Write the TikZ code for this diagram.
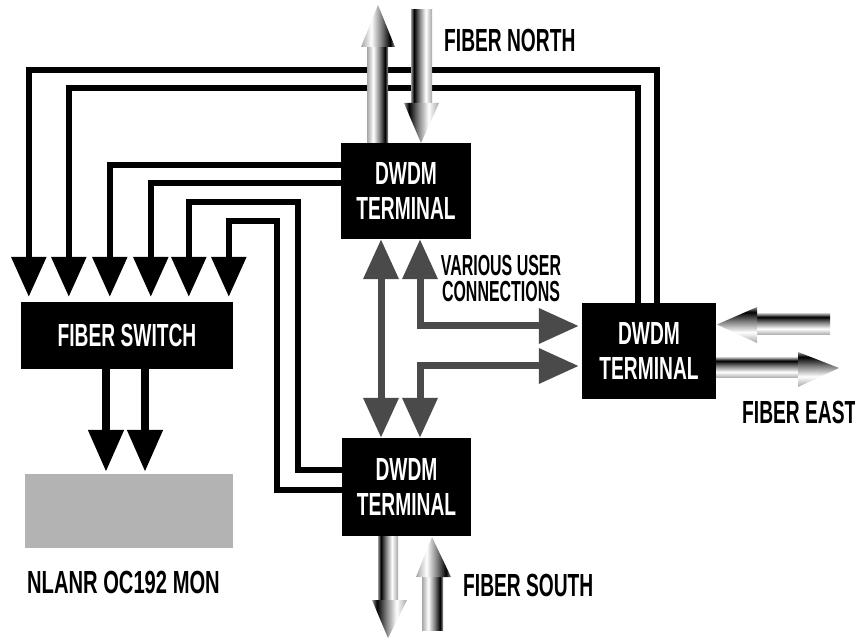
\documentclass[tikz,border=0pt]{standalone}
\usepackage{fontspec}
\setmainfont{Liberation Sans}
\newfontfamily\condf[FakeStretch=0.60]{Liberation Sans}
\newfontfamily\condw[FakeStretch=0.63]{Liberation Sans}
\newfontfamily\condn[FakeStretch=0.55]{Liberation Sans}
\usetikzlibrary{arrows.meta}
\definecolor{ugray}{HTML}{4A4A4A}
\definecolor{mgray}{HTML}{B3B3B3}
\pgfdeclarehorizontalshading{metal}{100bp}{color(0bp)=(gray!70); color(25bp)=(gray!70); color(40bp)=(white); color(55bp)=(gray); color(68bp)=(black); color(75bp)=(gray!80); color(100bp)=(gray!80)}
\tikzset{
 blk/.style={line width=6pt, line join=miter, black},
 blkar/.style={blk, -{Triangle[width=34pt,length=40pt]}},
 gar/.style={line width=7pt, ugray, line join=miter, {Triangle[width=34pt,length=40pt]}-{Triangle[width=34pt,length=40pt]}},
 termbox/.style={fill=black, text=white, inner sep=0pt, align=center, font=\condf\bfseries\fontsize{32}{35}\selectfont},
 lbl/.style={font=\condf\bfseries\fontsize{32}{38}\selectfont, inner sep=0pt},
 metalfill/.style={shading=metal, draw=none}
}
\begin{document}
\begin{tikzpicture}[x=1pt, y=-1pt]
\useasboundingbox (0,0) rectangle (855,639);
% boxes
\node[termbox, minimum width=130pt, minimum height=96pt] (dn) at (406,191) {DWDM\\TERMINAL};
\node[termbox, minimum width=129pt, minimum height=98pt] (ds) at (406.5,487) {DWDM\\TERMINAL};
\node[termbox, minimum width=134pt, minimum height=96pt] (de) at (649,351) {DWDM\\TERMINAL};
\node[termbox, minimum width=212pt, minimum height=67pt] (sw) at (127,335.5) {FIBER SWITCH};
\node[fill=mgray, minimum width=208pt, minimum height=74pt, inner sep=0pt] (mon) at (129,511) {};
% switch inputs
\coordinate (i1) at ([shift={(8pt,5pt)}]sw.north west);
\coordinate (i2) at ([shift={(48pt,5pt)}]sw.north west);
\coordinate (i3) at ([shift={(89pt,5pt)}]sw.north west);
\coordinate (i4) at ([shift={(130pt,5pt)}]sw.north west);
\coordinate (i5) at ([shift={(168pt,5pt)}]sw.north west);
\coordinate (i6) at ([shift={(208pt,5pt)}]sw.north west);
% black fibers
\draw[blkar] (de.north -| 657,0) |- (i1 |- 0,70) -- (i1);
\draw[blkar] (de.north -| 638,0) |- (i2 |- 0,88) -- (i2);
\draw[blkar] (dn.west |- 0,165) -| (i3);
\draw[blkar] (dn.west |- 0,183) -| (i4);
\draw[blkar] (ds.west |- 0,470) -| (298,202) -| (i5);
\draw[blkar] (ds.west |- 0,490) -| (277,221) -| (i6);
\draw[blkar, line width=8pt, -{Triangle[width=34pt,length=42pt]}] (sw.south -| 106,0) -- ([yshift=2pt]mon.north -| 106,0);
\draw[blkar, line width=8pt, -{Triangle[width=34pt,length=42pt]}] (sw.south -| 145,0) -- ([yshift=2pt]mon.north -| 145,0);
% user connections
\draw[gar] (dn.south -| 381,0) -- (ds.north -| 381,0);
\draw[gar] (dn.south -| 420,0) |- ([xshift=-3pt]de.west |- 0,326);
\draw[gar] (ds.north -| 420,0) |- ([xshift=-3pt]de.west |- 0,366);
% fiber north
\shade[metalfill] (367,143) rectangle (388,46);
\shade[metalfill] (361,47) -- (378,5) -- (395,47) -- cycle;
\shade[metalfill, shading angle=180] (411,10) rectangle (432,104);
\shade[metalfill, shading angle=180] (404,103) -- (421,143) -- (439,103) -- cycle;
% fiber south
\shade[metalfill, shading angle=180] (378,536) rectangle (398,601);
\shade[metalfill, shading angle=180] (372,600) -- (388,638) -- (407,600) -- cycle;
\shade[metalfill] (422,576) rectangle (443,630);
\shade[metalfill] (416,577) -- (432,537) -- (451,577) -- cycle;
% fiber east
\shade[metalfill, shading angle=90] (756,314) rectangle (830,335);
\shade[metalfill, shading angle=90] (757,307) -- (717,324.5) -- (757,343) -- cycle;
\shade[metalfill, shading angle=90] (716,358) rectangle (799,378);
\shade[metalfill, shading angle=90] (798,352) -- (839,368) -- (798,387) -- cycle;
% labels
\node[lbl, anchor=base west] (fn) at (444,52) {FIBER NORTH};
\node[lbl, font=\condn\bfseries\fontsize{29}{26}\selectfont, align=center] (vu) at (501,279) {VARIOUS USER\\CONNECTIONS};
\node[lbl, anchor=base west] (fe) at (742,423) {FIBER EAST};
\node[lbl, anchor=base west] (fs) at (463,596) {FIBER SOUTH};
\node[lbl, font=\condw\bfseries\fontsize{32}{38}\selectfont, anchor=base] (nl) at (123.5,593) {NLANR OC192 MON};
\end{tikzpicture}
\end{document}
